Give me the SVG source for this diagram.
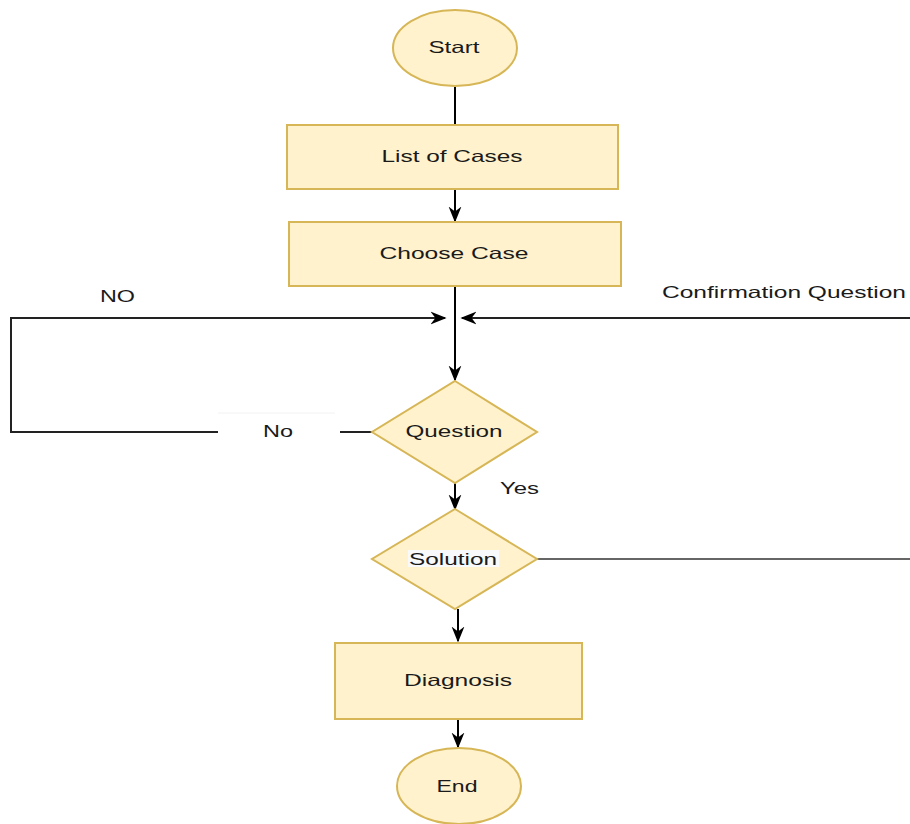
<svg xmlns="http://www.w3.org/2000/svg" width="910" height="824" viewBox="0 0 910 824">
<style>
.shape{fill:#fff2cc;stroke:#d6b656;stroke-width:2}
.t{font-family:"Liberation Sans",Arial,sans-serif;font-size:16.5px;fill:#1a1a1a;text-anchor:middle}
.tl{font-family:"Liberation Sans",Arial,sans-serif;font-size:16.5px;fill:#1a1a1a}
.c{fill:none;stroke:#000;stroke-width:2}
.cg{fill:none;stroke:#555;stroke-width:2}
</style>
<defs>
<marker id="ah" viewBox="0 0 10 10" refX="9" refY="5" markerWidth="8" markerHeight="8" markerUnits="userSpaceOnUse" orient="auto">
<path d="M0,0 L10,5 L0,10 L3,5 Z" fill="#000"/>
</marker>
<marker id="ah2" viewBox="0 0 10 10" refX="9" refY="5" markerWidth="16" markerHeight="16" markerUnits="userSpaceOnUse" orient="auto">
<path d="M0,1 L10,5 L0,9 L3,5 Z" fill="#000"/>
</marker>
</defs>
<rect width="910" height="824" fill="#fff"/>
<g id="connectors">
<path class="c" d="M455,87 V125"/>
<path class="c" d="M455,189 V221" marker-end="url(#ah2)"/>
<path class="c" d="M455,286 V380" marker-end="url(#ah2)"/>
<path class="cg" d="M372,432 H11 V318 H445" marker-end="url(#ah2)" style="stroke:#222"/>
<path class="cg" d="M910,318 H462" marker-end="url(#ah2)" style="stroke:#222"/>
<path class="c" d="M455,483 V509" marker-end="url(#ah2)"/>
<path class="cg" d="M537,559 H910" style="stroke:#666"/>
<path class="c" d="M458,609 V641" marker-end="url(#ah2)"/>
<path class="c" d="M458,719 V747" marker-end="url(#ah2)"/>
<rect x="218" y="413" width="122" height="36" fill="#fff"/>
<line x1="218" y1="413" x2="335" y2="413" stroke="#f2f2f2" stroke-width="1"/>
<text class="tl" x="263" y="437" textLength="30" lengthAdjust="spacingAndGlyphs">No</text>
<text class="tl" x="100" y="302" textLength="35" lengthAdjust="spacingAndGlyphs">NO</text>
<text class="tl" x="662" y="298" textLength="244" lengthAdjust="spacingAndGlyphs">Confirmation Question</text>
<text class="tl" x="500" y="494" textLength="39" lengthAdjust="spacingAndGlyphs">Yes</text>
</g>
<g id="start">
<ellipse class="shape" cx="455" cy="48" rx="62" ry="38"/>
<text class="t" x="454" y="53" textLength="51" lengthAdjust="spacingAndGlyphs">Start</text>
</g>
<g id="list-of-cases">
<rect class="shape" x="287" y="125" width="331" height="64"/>
<text class="t" x="452" y="162" textLength="141" lengthAdjust="spacingAndGlyphs">List of Cases</text>
</g>
<g id="choose-case">
<rect class="shape" x="289" y="222" width="332" height="64"/>
<text class="t" x="454" y="259" textLength="149" lengthAdjust="spacingAndGlyphs">Choose Case</text>
</g>
<g id="question">
<polygon class="shape" points="455,381 537,432 455,483 372,432"/>
<text class="t" x="454" y="437" textLength="97" lengthAdjust="spacingAndGlyphs">Question</text>
</g>
<g id="solution">
<polygon class="shape" points="455,509 537,559 455,609 372,559"/>
<rect x="408" y="550" width="91" height="17" fill="#f8f9fa"/>
<text class="t" x="453" y="565" textLength="88" lengthAdjust="spacingAndGlyphs">Solution</text>
</g>
<g id="diagnosis">
<rect class="shape" x="335" y="643" width="247" height="76"/>
<text class="t" x="458" y="686" textLength="108" lengthAdjust="spacingAndGlyphs">Diagnosis</text>
</g>
<g id="end">
<ellipse class="shape" cx="459" cy="786" rx="62" ry="38"/>
<text class="t" x="457" y="792" textLength="41" lengthAdjust="spacingAndGlyphs">End</text>
</g>
</svg>
